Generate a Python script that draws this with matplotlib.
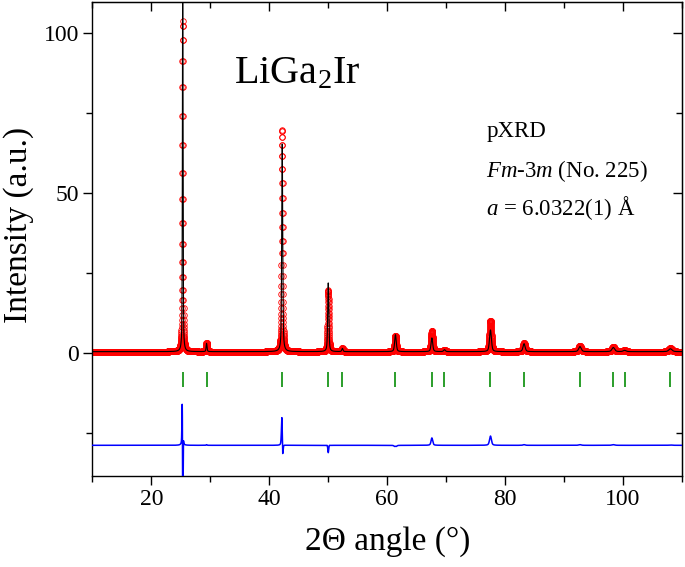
import numpy as np
import matplotlib
matplotlib.use("Agg")
import matplotlib.pyplot as plt
from matplotlib.ticker import MultipleLocator

# reflections of LiGa2Ir (Fm-3m)
peak_pos = [25.30, 29.36, 42.18, 50.00, 52.40, 61.40, 67.58, 69.72,
            77.52, 83.22, 92.70, 98.36, 100.28, 108.05]
obs_height = [103.5, 2.8, 69.5, 19.2, 1.0, 5.0, 6.6, 0.6,
              9.7, 2.7, 1.8, 1.5, 0.4, 1.0]
obs_fwhm = [0.15, 0.18, 0.20, 0.23, 0.24, 0.30, 0.33, 0.34,
            0.38, 0.42, 0.50, 0.55, 0.57, 0.65]
calc_height = [124.0, 2.6, 65.0, 21.5, 1.0, 5.3, 4.3, 0.6,
               6.8, 2.5, 1.6, 1.3, 0.4, 0.9]
calc_fwhm = [0.125, 0.18, 0.20, 0.22, 0.24, 0.32, 0.33, 0.34,
             0.38, 0.42, 0.50, 0.55, 0.57, 0.65]
calc_shift = [0.01, 0.0, 0.012, 0.0, 0.0, 0.0, 0.0, 0.0,
              0.0, 0.0, 0.0, 0.0, 0.0, 0.0]
background = 0.3
diff_offset = -29.0

two_theta = np.arange(10.0, 110.0, 0.01)


def pseudo_voigt(x, pos, height, fwhm, eta=0.5):
    sig = fwhm / 2.3548
    g = np.exp(-0.5 * ((x - pos) / sig) ** 2)
    l = 1.0 / (1.0 + ((x - pos) / (fwhm / 2)) ** 2)
    return height * (eta * l + (1 - eta) * g)


def profile(heights, widths, shifts):
    y = np.full_like(two_theta, background)
    for p, h, w, s in zip(peak_pos, heights, widths, shifts):
        y += pseudo_voigt(two_theta, p + s, h, w)
    return y


y_obs = profile(obs_height, obs_fwhm, [0.0] * len(peak_pos))
y_calc = profile(calc_height, calc_fwhm, calc_shift)
y_diff = y_obs - y_calc + diff_offset

plt.rcParams['font.family'] = 'Liberation Serif'
plt.rcParams['mathtext.fontset'] = 'custom'
plt.rcParams['mathtext.rm'] = 'Liberation Serif'
plt.rcParams['mathtext.it'] = 'Liberation Serif:italic'

fig = plt.figure(figsize=(6.85, 5.67), dpi=100)
ax = fig.add_axes([0.135, 0.1605, 0.8605, 0.836])

ax.plot(two_theta, y_obs, 'o', mfc='none', mec='red', ms=4, mew=0.6, zorder=2)
ax.plot(two_theta, y_calc, color='black', lw=0.8, zorder=3)
ax.vlines(peak_pos, -10.7, -6.0, color='#1a961a', lw=1.3, zorder=3)
ax.plot(two_theta, y_diff, color='blue', lw=1.1, zorder=3)

ax.set_xlim(10, 110)
ax.set_ylim(-38.6, 109.7)
ax.xaxis.set_major_locator(MultipleLocator(20))
ax.xaxis.set_minor_locator(MultipleLocator(10))
ax.yaxis.set_major_locator(MultipleLocator(50))
ax.yaxis.set_minor_locator(MultipleLocator(25))

ax.tick_params(which='both', direction='out', width=1.0, labelsize=17, pad=3)
ax.tick_params(which='major', length=6.5)
ax.tick_params(which='minor', length=4)
sec_x = ax.secondary_xaxis('top')
sec_x.xaxis.set_major_locator(MultipleLocator(20))
sec_x.xaxis.set_minor_locator(MultipleLocator(10))
sec_x.tick_params(which='both', direction='in', width=1.0, labeltop=False)
sec_x.tick_params(which='major', length=6.5)
sec_x.tick_params(which='minor', length=4)
sec_y = ax.secondary_yaxis('right')
sec_y.yaxis.set_major_locator(MultipleLocator(50))
sec_y.yaxis.set_minor_locator(MultipleLocator(25))
sec_y.tick_params(which='both', direction='in', width=1.0, labelright=False)
sec_y.tick_params(which='major', length=6.5)
sec_y.tick_params(which='minor', length=4)
for sp in ax.spines.values():
    sp.set_linewidth(1.0)

ax.set_xlabel('2Θ angle (°)', fontsize=24)
ax.set_ylabel('Intensity (a.u.)', fontsize=24)
ax.xaxis.set_label_coords(0.5, -0.105)
ax.yaxis.set_label_coords(-0.10, 0.53)

ax.text(44.7, 84.3, r'LiGa$_2$Ir', fontsize=29, ha='center', va='baseline')
ax.text(76.8, 67.5, 'pXRD', fontsize=16.5, va='baseline')
ax.text(76.8, 55.0, r'$\mathit{Fm}$-$\mathit{3m}$ (No. 225)', fontsize=16.5, va='baseline')
ax.text(76.8, 43.0, r'$a$ = 6.0322(1) Å', fontsize=16.5, va='baseline')

fig.savefig('out.png', dpi=100)
